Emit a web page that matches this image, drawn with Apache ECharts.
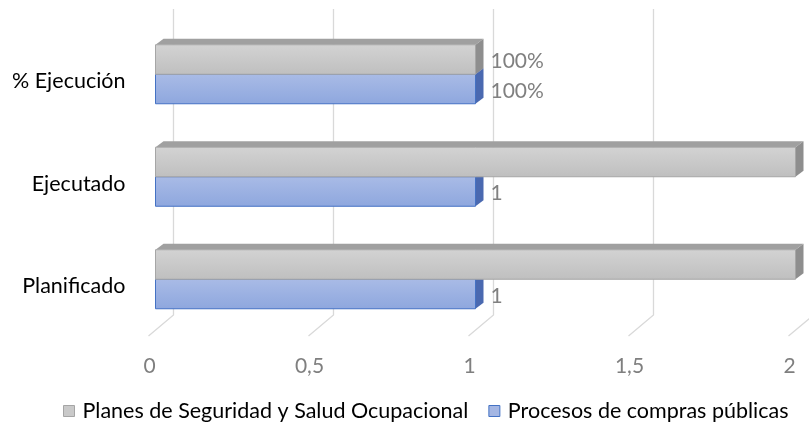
<!DOCTYPE html>
<html>
<head>
<meta charset="utf-8">
<script src="https://cdn.jsdelivr.net/npm/echarts@6/dist/echarts.min.js"></script>
<style>html,body{margin:0;padding:0;background:#fff;}#c{width:809px;height:438px;}</style>
</head>
<body>
<div id="c"></div>
<script>
const categories = ["Planificado", "Ejecutado", "% Ejecución"];
const procesosValues = [1, 1, 1];
const planesValues = [2, 2, 1];
const procesosLabels = ["1", "1", "100%"];
const planesLabels = ["", "", "100%"];
const xTicks = [0, 0.5, 1, 1.5, 2];
const seriesNames = ["Planes de Seguridad y Salud Ocupacional", "Procesos de compras públicas"];

const FONT = "Lato";
const chart = echarts.init(document.getElementById('c'), null, {renderer: 'canvas'});

const BAR_H = 29.5, DX = 8, DY = 6, SHIFT_X = 6, SHIFT_Y = -7;

function barRender(kind, labels) {
  return function (params, api) {
    const cat = api.value(0), val = api.value(1);
    const p0 = api.coord([0, cat]);
    const p1 = api.coord([val, cat]);
    const x0 = p0[0] + SHIFT_X, x1 = p1[0] + SHIFT_X;
    const mid = p0[1] + SHIFT_Y;
    let top, bottom, front, frontStroke, topFill, sideFill;
    if (kind === 'gray') {
      top = mid - BAR_H; bottom = mid;
      front = new echarts.graphic.LinearGradient(0, 0, 0, 1, [{offset: 0, color: '#d3d3d3'}, {offset: 1, color: '#bfbfbf'}]);
      frontStroke = '#a6a6a6'; topFill = '#a0a0a0'; sideFill = '#8e8e8e';
    } else {
      top = mid; bottom = mid + BAR_H;
      front = new echarts.graphic.LinearGradient(0, 0, 0, 1, [{offset: 0, color: '#a9bbe6'}, {offset: 1, color: '#8ea7de'}]);
      frontStroke = '#4472c4'; topFill = '#7d96d6'; sideFill = '#4a69b0';
    }
    const children = [
      {type: 'polygon', shape: {points: [[x0, top], [x0 + DX, top - DY], [x1 + DX, top - DY], [x1, top]]}, style: {fill: topFill}},
      {type: 'polygon', shape: {points: [[x1, top], [x1 + DX, top - DY], [x1 + DX, bottom - DY], [x1, bottom]]}, style: {fill: sideFill}},
      {type: 'rect', shape: {x: x0, y: top, width: x1 - x0, height: bottom - top}, style: {fill: front, stroke: frontStroke, lineWidth: 1}}
    ];
    const lbl = labels[params.dataIndex];
    if (lbl) {
      children.push({type: 'text', style: {text: lbl, x: x1 + DX + 7, y: (top + bottom) / 2 + 2, verticalAlign: 'middle', align: 'left', fill: '#808080', font: '21px ' + FONT}});
    }
    return {type: 'group', children: children};
  };
}

function gridRender(params, api) {
  const v = api.value(0);
  const cs = params.coordSys;
  const x = api.coord([v, 0])[0];
  const yTop = cs.y - 21, yBack = cs.y + cs.height - 22.5, yFront = cs.y + cs.height - 1.5;
  return {type: 'polyline', shape: {points: [[x + 24, yTop], [x + 24, yBack], [x - 1, yFront]]}, style: {stroke: '#d9d9d9', lineWidth: 1.3, fill: null}};
}

chart.setOption({
  animation: false,
  textStyle: {fontFamily: FONT},
  grid: {left: 149.5, right: 19.5, top: 30, bottom: 100.5, containLabel: false},
  xAxis: {
    type: 'value', min: 0, max: 2, interval: 0.5,
    axisLine: {show: false}, axisTick: {show: false}, splitLine: {show: false},
    axisLabel: {color: '#7f7f7f', fontSize: 21, fontFamily: FONT, margin: 18,
      formatter: v => String(v).replace('.', ',')}
  },
  yAxis: {
    type: 'category', data: categories,
    axisLine: {show: false}, axisTick: {show: false},
    axisLabel: {color: '#000', fontSize: 21.5, fontFamily: FONT, margin: 24}
  },
  legend: {
    bottom: 11, left: 58, itemWidth: 11, itemHeight: 11, itemGap: 20,
    icon: 'rect',
    textStyle: {color: '#000', fontSize: 21.5, fontFamily: FONT, padding: [0, 0, 0, 3]},
    data: [
      {name: seriesNames[0], itemStyle: {color: '#c9c9c9', borderColor: '#a5a5a5', borderWidth: 1}},
      {name: seriesNames[1], itemStyle: {color: '#a4b6e3', borderColor: '#4472c4', borderWidth: 1}}
    ]
  },
  series: [
    {type: 'custom', name: 'grid', silent: true, renderItem: gridRender, data: xTicks.map(v => [v]), encode: {x: 0}, clip: false, z: 1},
    {type: 'custom', name: seriesNames[1], color: '#a4b6e3', renderItem: barRender('blue', procesosLabels),
      data: procesosValues.map((v, i) => [i, v]), encode: {x: 1, y: 0}, clip: false, z: 2},
    {type: 'custom', name: seriesNames[0], color: '#c9c9c9', renderItem: barRender('gray', planesLabels),
      data: planesValues.map((v, i) => [i, v]), encode: {x: 1, y: 0}, clip: false, z: 3}
  ]
});
</script>
</body>
</html>
